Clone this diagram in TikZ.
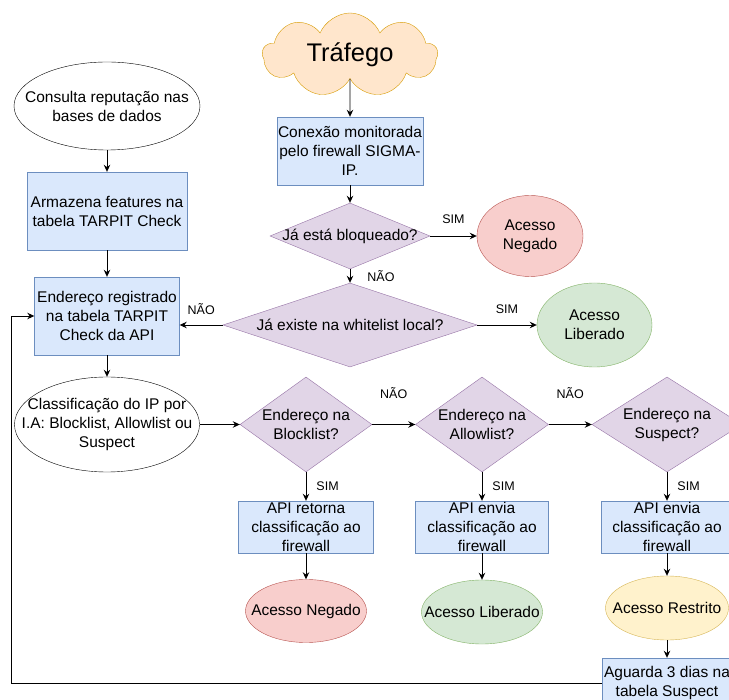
\documentclass[tikz,border=0pt]{standalone}
\usepackage{fontspec}
\setmainfont{Liberation Sans}
\usetikzlibrary{arrows.meta, shapes.geometric, shapes.symbols}
\definecolor{boxfill}{HTML}{DAE8FC}
\definecolor{boxline}{HTML}{6C8EBF}
\definecolor{decfill}{HTML}{E1D5E7}
\definecolor{decline}{HTML}{9673A6}
\definecolor{redfill}{HTML}{F8CECC}
\definecolor{redline}{HTML}{B85450}
\definecolor{grnfill}{HTML}{D5E8D4}
\definecolor{grnline}{HTML}{82B366}
\definecolor{ylwfill}{HTML}{FFF2CC}
\definecolor{ylwline}{HTML}{D6B656}
\definecolor{orgfill}{HTML}{FFE6CC}
\definecolor{orgline}{HTML}{D79B00}
\newcommand\txtfont{\fontsize{15.5}{19}\selectfont}
\newcommand\tagfont{\fontsize{12.5}{15}\selectfont}
\newcommand\bigfont{\fontsize{25.5}{30}\selectfont}

\begin{document}
\begin{tikzpicture}[
  x=1pt, y=-1pt,
  box/.style={
    rectangle, draw=boxline, fill=boxfill,
    inner sep=0pt, align=center, font=\txtfont
  },
  dec/.style={
    diamond, draw=decline, fill=decfill,
    inner sep=0pt
  },
  ell/.style={ellipse, draw, inner sep=0pt},
  lbl/.style={label={[align=center, font=\txtfont]center:{#1}}},
  tag/.style={font=\tagfont, inner sep=2pt},
  arr/.style={-{Stealth[length=7pt, width=6.5pt]}, line width=0.9pt}
]
  \path[use as bounding box, fill=white] (0,0) rectangle (729,700);
  \clip (0,0) rectangle (729,700);

  % main column
  \node[cloud, cloud puffs=9, cloud puff arc=135, aspect=2.1,
    draw=orgline, fill=orgfill, minimum width=175pt, minimum height=84pt,
    inner sep=0pt, font=\bigfont] (traf) at (350,55) {Tráfego};
  \node[box, minimum width=146pt, minimum height=68pt] (conx) at (350,151)
    {Conexão monitorada\\pelo firewall SIGMA-\\IP.};
  \node[dec, minimum width=160pt, minimum height=66pt,
    lbl={Já está bloqueado?}] (blk) at (350,236) {};
  \node[ell, draw=redline, fill=redfill, minimum width=106pt, minimum height=81pt,
    lbl={Acesso\\Negado}] (negA) at (530,236) {};
  \node[dec, minimum width=254pt, minimum height=84pt,
    lbl={Já existe na whitelist local?}] (wl) at (350,325) {};
  \node[ell, draw=grnline, fill=grnfill, minimum width=115pt, minimum height=84pt,
    lbl={Acesso\\Liberado}] (libA) at (594.5,325) {};

  % left column
  \node[ell, minimum width=186pt, minimum height=88pt,
    lbl={Consulta reputação nas\\bases de dados}] (cons) at (107,106) {};
  \node[box, minimum width=160pt, minimum height=78pt] (arm) at (107,211)
    {Armazena features na\\tabela TARPIT Check};
  \node[box, minimum width=145pt, minimum height=78pt] (reg) at (107,316)
    {Endereço registrado\\na tabela TARPIT\\Check da API};
  \node[ell, minimum width=185pt, minimum height=95pt,
    lbl={Classificação do IP por\\I.A: Blocklist, Allowlist ou\\Suspect}] (cls) at (107,424.5) {};

  % classification row
  \node[dec, minimum width=132pt, minimum height=95pt,
    lbl={Endereço na\\Blocklist?}] (bl) at (306,424.5) {};
  \node[dec, minimum width=133pt, minimum height=95pt,
    lbl={Endereço na\\Allowlist?}] (al) at (482,424.5) {};
  \node[dec, minimum width=150pt, minimum height=95pt,
    lbl={Endereço na\\Suspect?}] (su) at (667,424.5) {};
  \node[box, minimum width=135pt, minimum height=52pt] (apiA) at (306,527)
    {API retorna\\classificação ao\\firewall};
  \node[box, minimum width=133pt, minimum height=52pt] (apiB) at (482,527)
    {API envia\\classificação ao\\firewall};
  \node[box, minimum width=132pt, minimum height=52pt] (apiC) at (667,527)
    {API envia\\classificação ao\\firewall};
  \node[ell, draw=redline, fill=redfill, minimum width=121pt, minimum height=63pt,
    lbl={Acesso Negado}] (negB) at (306,611) {};
  \node[ell, draw=grnline, fill=grnfill, minimum width=121pt, minimum height=64pt,
    lbl={Acesso Liberado}] (libB) at (482,612) {};
  \node[ell, draw=ylwline, fill=ylwfill, minimum width=123pt, minimum height=64pt,
    lbl={Acesso Restrito}] (resA) at (667,608) {};
  \node[box, minimum width=130pt, minimum height=50pt] (wait) at (667,683)
    {Aguarda 3 dias na\\tabela Suspect};
  \coordinate (back) at (11,0);

  \draw[arr] (traf) -- (conx);
  \draw[arr] (conx) -- (blk);
  \draw[arr] (blk) -- (negA) node[tag, midway, above=10pt] (simA) {SIM};
  \draw[arr] (blk) -- (wl) node[tag, midway, right=15pt] (naoA) {NÃO};
  \draw[arr] (wl) -- (libA) node[tag, midway, above=9pt] (simB) {SIM};
  \draw[arr] (wl) -- (wl.west -| reg.east) node[tag, midway, above=8pt] (naoB) {NÃO};

  \draw[arr] (cons) -- (arm);
  \draw[arr] (arm) -- (reg);
  \draw[arr] (reg) -- (cls);
  \draw[arr] (cls) -- (bl);
  \draw[arr] (bl) -- (al) node[tag, midway, above=23pt] (naoC) {NÃO};
  \draw[arr] (al) -- (su) node[tag, midway, above=23pt] (naoD) {NÃO};
  \foreach \d/\b/\e in {bl/apiA/negB, al/apiB/libB, su/apiC/resA} {
    \draw[arr] (\d) -- (\b) node[tag, midway, right=8pt] (sim\d) {SIM};
    \draw[arr] (\b) -- (\e);
  }
  \draw[arr] (resA) -- (wait);
  \draw[arr] (wait.west) -- (wait.west -| back) |- (reg.west);
\end{tikzpicture}
\end{document}
